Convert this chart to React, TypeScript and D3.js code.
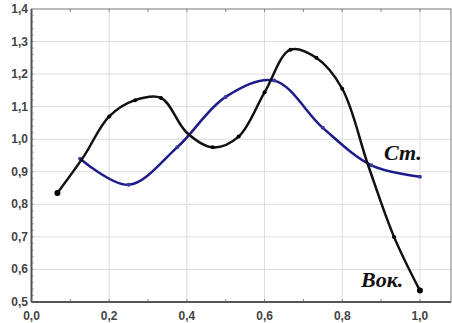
import React from 'react';
import * as d3 from 'd3';

// black curve (Вок.), sampled at k/15
const vokX = [1, 2, 3, 4, 5, 6, 7, 8, 9, 10, 11, 12, 13, 14, 15].map(k => k / 15);
const vokY = [0.835, 0.945, 1.07, 1.12, 1.127, 1.02, 0.975, 1.008, 1.144, 1.275, 1.25, 1.155, 0.92, 0.7, 0.535];
// which black points show a marker
const vokMarked = [true, false, true, true, true, false, true, true, true, true, true, true, false, true, true];

// blue curve (Ст.), sampled at k/8
const stX = [0.125, 0.25, 0.375, 0.5, 0.625, 0.75, 0.875, 1.0];
const stY = [0.94, 0.86, 0.975, 1.13, 1.18, 1.035, 0.92, 0.885];

const xTicks = [0, 0.2, 0.4, 0.6, 0.8, 1.0];
const yTicks = [0.5, 0.6, 0.7, 0.8, 0.9, 1.0, 1.1, 1.2, 1.3, 1.4];
const seriesLabels = ['Ст.', 'Вок.'];

const W = 452;
const H = 323;

class Chart extends React.Component<{}> {
	node: SVGSVGElement | null = null;
	componentDidMount() {
		this.draw();
	}
	componentDidUpdate() {
		this.draw();
	}
	draw() {
		const svg = d3.select(this.node);
		svg.selectAll('*').remove();

		const xScale = d3.scaleLinear().domain([0, 1.08]).range([31.5, 451]);
		const yScale = d3.scaleLinear().domain([0.5, 1.4]).range([302, 9]);
		const fmt = (v: number) => d3.format('.1f')(v).replace('.', ',');

		const g = svg.append('g');

		// grid
		g.selectAll('.vgrid')
			.data(xTicks.filter(t => t > 0))
			.enter()
			.append('line')
			.attr('x1', d => xScale(d))
			.attr('x2', d => xScale(d))
			.attr('y1', yScale(1.4))
			.attr('y2', yScale(0.5))
			.attr('stroke', '#dcdcdc')
			.attr('stroke-width', 1);
		g.selectAll('.hgrid')
			.data(yTicks.filter(t => t > 0.5 && t < 1.4))
			.enter()
			.append('line')
			.attr('x1', xScale(0))
			.attr('x2', xScale(1.08))
			.attr('y1', d => yScale(d))
			.attr('y2', d => yScale(d))
			.attr('stroke', '#dcdcdc')
			.attr('stroke-width', 1);

		// minor ticks
		const xMinor = d3.range(1, 11).map(i => i / 10);
		g.selectAll('.xminor')
			.data(xMinor)
			.enter()
			.append('line')
			.attr('x1', d => xScale(d))
			.attr('x2', d => xScale(d))
			.attr('y1', yScale(0.5))
			.attr('y2', yScale(0.5) - 3)
			.attr('stroke', '#888');
		g.selectAll('.xminorTop')
			.data(xMinor)
			.enter()
			.append('line')
			.attr('x1', d => xScale(d))
			.attr('x2', d => xScale(d))
			.attr('y1', yScale(1.4))
			.attr('y2', yScale(1.4) + 3)
			.attr('stroke', '#888');
		const yMinor = d3.range(26, 70).map(i => i / 50);
		g.selectAll('.yminor')
			.data(yMinor)
			.enter()
			.append('line')
			.attr('x1', xScale(0))
			.attr('x2', xScale(0) + 2.5)
			.attr('y1', d => yScale(d))
			.attr('y2', d => yScale(d))
			.attr('stroke', '#999')
			.attr('stroke-width', 0.7);

		// frame
		g.append('rect')
			.attr('x', xScale(0))
			.attr('y', yScale(1.4))
			.attr('width', xScale(1.08) - xScale(0))
			.attr('height', yScale(0.5) - yScale(1.4))
			.attr('fill', 'none')
			.attr('stroke', '#777')
			.attr('stroke-width', 1);
		g.append('line')
			.attr('x1', xScale(0))
			.attr('x2', xScale(1.08))
			.attr('y1', yScale(0.5))
			.attr('y2', yScale(0.5))
			.attr('stroke', '#555')
			.attr('stroke-width', 2);
		g.append('line')
			.attr('x1', xScale(0))
			.attr('x2', xScale(0))
			.attr('y1', yScale(0.5))
			.attr('y2', yScale(1.4))
			.attr('stroke', '#555')
			.attr('stroke-width', 2);

		// tick labels
		g.selectAll('.xlab')
			.data(xTicks)
			.enter()
			.append('text')
			.attr('x', d => xScale(d))
			.attr('y', 320)
			.attr('text-anchor', 'middle')
			.attr('font-family', 'Liberation Sans, Arial, sans-serif')
			.attr('font-weight', 'bold')
			.attr('font-size', 12)
			.attr('fill', '#444')
			.text(d => fmt(d));
		g.selectAll('.ylab')
			.data(yTicks)
			.enter()
			.append('text')
			.attr('x', 28)
			.attr('y', d => yScale(d) + 4)
			.attr('text-anchor', 'end')
			.attr('font-family', 'Liberation Sans, Arial, sans-serif')
			.attr('font-weight', 'bold')
			.attr('font-size', 12)
			.attr('fill', '#444')
			.text(d => fmt(d));

		const line = d3
			.line<[number, number]>()
			.x(d => xScale(d[0]))
			.y(d => yScale(d[1]))
			.curve(d3.curveCatmullRom.alpha(0.5));

		const stPts: [number, number][] = stX.map((x, i) => [x, stY[i]]);
		const vokPts: [number, number][] = vokX.map((x, i) => [x, vokY[i]]);

		// blue line
		g.append('path')
			.attr('d', line(stPts))
			.attr('fill', 'none')
			.attr('stroke', '#1c1c8a')
			.attr('stroke-width', 2.5);
		g.selectAll('.stpt')
			.data(stPts)
			.enter()
			.append('circle')
			.attr('cx', d => xScale(d[0]))
			.attr('cy', d => yScale(d[1]))
			.attr('r', 2)
			.attr('fill', '#3a3aa0');

		// black line
		g.append('path')
			.attr('d', line(vokPts))
			.attr('fill', 'none')
			.attr('stroke', '#111')
			.attr('stroke-width', 2.5);
		g.selectAll('.vokpt')
			.data(vokPts.filter((_, i) => vokMarked[i]))
			.enter()
			.append('circle')
			.attr('cx', d => xScale(d[0]))
			.attr('cy', d => yScale(d[1]))
			.attr('r', (d, i, arr) => (i === 0 || i === arr.length - 1 ? 3 : 2))
			.attr('fill', '#000');

		// series labels
		g.append('text')
			.attr('x', 384)
			.attr('y', 160)
			.attr('font-family', 'Liberation Serif, Times New Roman, serif')
			.attr('font-style', 'italic')
			.attr('font-weight', 'bold')
			.attr('font-size', 22)
			.attr('fill', '#111')
			.text(seriesLabels[0]);
		g.append('text')
			.attr('x', 361)
			.attr('y', 287)
			.attr('font-family', 'Liberation Serif, Times New Roman, serif')
			.attr('font-style', 'italic')
			.attr('font-weight', 'bold')
			.attr('font-size', 22)
			.attr('fill', '#111')
			.text(seriesLabels[1]);
	}
	render() {
		return (
			<svg
				ref={node => {
					this.node = node;
				}}
				width={W}
				height={H}
				style={{ position: 'absolute', left: 0, top: 0, background: '#fff' }}
			/>
		);
	}
}

export default function App() {
	return <Chart />;
}
